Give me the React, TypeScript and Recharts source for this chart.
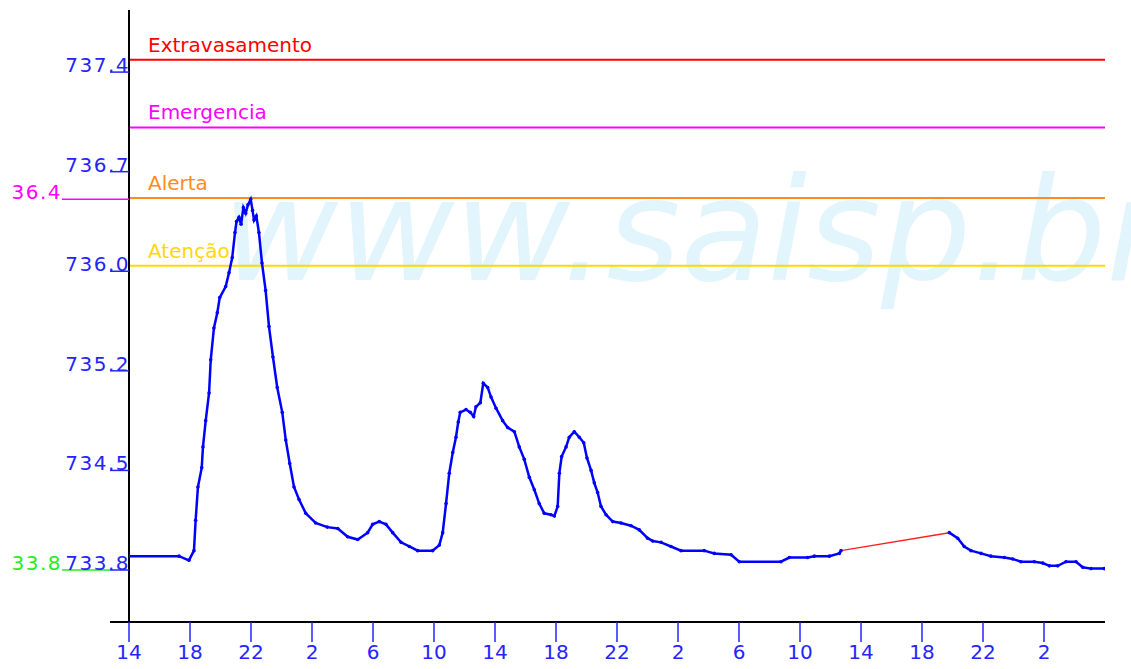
import { LineChart, Line, XAxis, YAxis, ReferenceLine } from "recharts";

// hours since 14h of the first day
const hours = [
  0, 3.28, 3.93, 4.26, 4.37, 4.52, 4.77, 4.85, 5.03, 5.25, 5.36, 5.57, 5.79, 5.95,
  6.34, 6.56, 6.77, 6.95, 7.05, 7.21, 7.35, 7.5, 7.65, 7.8, 7.98, 8.1, 8.2, 8.35,
  8.52, 8.72, 8.96, 9.18, 9.44, 9.72, 10.05, 10.28, 10.54, 10.82, 11.15, 11.59,
  12.24, 13.0, 13.69, 14.34, 15.0, 15.65, 15.98, 16.41, 16.85, 17.29, 17.84, 18.38,
  18.93, 19.91, 20.35, 20.57, 20.79, 21.0, 21.23, 21.44, 21.59, 21.72, 22.1, 22.38,
  22.6, 22.75, 23.04, 23.23, 23.52, 23.74, 24.07, 24.5, 24.83, 25.27, 25.59, 25.92,
  26.25, 26.58, 26.9, 27.23, 27.67, 27.89, 28.11, 28.22, 28.37, 28.66, 28.87, 29.2,
  29.53, 29.82, 30.03, 30.3, 30.51, 30.73, 30.95, 31.28, 31.72, 32.26, 32.92, 33.46,
  34.01, 34.34, 34.89, 35.54, 36.2, 37.72, 38.38, 39.48, 40.02, 42.75, 43.3, 44.5,
  44.94, 45.92, 46.58, 46.69, 50.2, 53.79, 54.34, 54.77, 55.21, 55.87, 56.52, 57.4,
  57.95, 58.49, 59.36, 59.92, 60.35, 60.9, 61.44, 62.1, 62.54, 63.08, 63.95,
];

// nivel (m); null = sem dado
const levels = [
  733.9, 733.9, 733.87, 733.94, 734.16, 734.4, 734.54, 734.69, 734.88, 735.08, 735.32,
  735.55, 735.66, 735.77, 735.85, 735.95, 736.06, 736.24, 736.32, 736.35, 736.3,
  736.42, 736.38, 736.44, 736.48, 736.4, 736.33, 736.36, 736.24, 736.02, 735.82,
  735.56, 735.34, 735.12, 734.94, 734.74, 734.57, 734.4, 734.31, 734.21, 734.14,
  734.11, 734.1, 734.04, 734.02, 734.07, 734.13, 734.15, 734.13, 734.07, 734.0,
  733.97, 733.94, 733.94, 733.98, 734.07, 734.28, 734.5, 734.65, 734.76, 734.87,
  734.94, 734.96, 734.94, 734.91, 734.98, 735.01, 735.15, 735.12, 735.05, 734.97,
  734.88, 734.83, 734.8, 734.69, 734.6, 734.47, 734.38, 734.28, 734.21, 734.2,
  734.19, 734.26, 734.5, 734.62, 734.69, 734.76, 734.8, 734.76, 734.72, 734.61,
  734.52, 734.43, 734.36, 734.26, 734.2, 734.15, 734.14, 734.12, 734.09, 734.03,
  734.01, 734.0, 733.97, 733.94, 733.94, 733.92, 733.91, 733.86, 733.86, 733.89,
  733.89, 733.9, 733.9, 733.92, 733.94, null, 734.07, 734.03, 733.97, 733.94,
  733.92, 733.9, 733.89, 733.88, 733.86, 733.86, 733.85, 733.83, 733.83, 733.86,
  733.86, 733.82, 733.81, 733.81,
];

// missing-data stretch drawn in red
const gapEdges = [46.69, 53.79];

const xTicks = [0, 4, 8, 12, 16, 20, 24, 28, 32, 36, 40, 44, 48, 52, 56, 60];
const xTickLabels = ["14", "18", "22", "2", "6", "10", "14", "18", "22", "2", "6", "10", "14", "18", "22", "2"];

const yTicks = [733.8, 734.52, 735.24, 735.96, 736.68, 737.4];
const yTickLabels = ["733.8", "734.5", "735.2", "736.0", "736.7", "737.4"];

const thresholdNames = ["Extravasamento", "Emergencia", "Alerta", "Atenção"];
const thresholdValues = [737.49, 737.0, 736.49, 736.0];
const thresholdColors = ["#ff0000", "#ff00ff", "#ff8c1a", "#ffd800"];

const data = hours.map((h, i) => ({
  h,
  level: levels[i],
  gap: gapEdges.includes(h) ? levels[i] : null,
}));

const valid = levels.filter((v) => v !== null) as number[];
const peak = Math.max(...valid);
const minLevel = yTicks[0];

const FONT = "DejaVu Sans";
const BLUE_TXT = "#2424ff";

function YTick(props: any) {
  const { x, y, payload } = props;
  const v = payload.value;
  if (v === peak) {
    return (
      <g>
        <text x={62} y={y} textAnchor="end" fill="#ff00ff" fontSize={20} fontFamily={FONT} letterSpacing={1.5}>
          {(Math.floor(peak * 10) / 10).toFixed(1).slice(1)}
        </text>
        <line x1={62} x2={x} y1={y} y2={y} stroke="#ff00ff" strokeWidth={1.5} />
      </g>
    );
  }
  const idx = yTicks.indexOf(v);
  return (
    <g>
      {v === minLevel && (
        <g>
          <text x={62} y={y} textAnchor="end" fill="#22ee22" fontSize={20} fontFamily={FONT} letterSpacing={1.5}>
            {yTickLabels[idx].slice(1)}
          </text>
          <line x1={62} x2={x - 19} y1={y} y2={y} stroke="#22ee22" strokeWidth={1.5} />
        </g>
      )}
      <text x={x + 1} y={y} textAnchor="end" fill={BLUE_TXT} fontSize={20} fontFamily={FONT} letterSpacing={1.5}>
        {yTickLabels[idx]}
      </text>
      <line x1={x - 19} x2={x} y1={y} y2={y} stroke={BLUE_TXT} strokeWidth={1.5} />
    </g>
  );
}

function XTick(props: any) {
  const { x, y, payload, index } = props;
  const i = xTicks.indexOf(payload.value);
  return (
    <g>
      {index === 0 && <line x1={x - 19} x2={x} y1={y} y2={y} stroke="#000" strokeWidth={2} />}
      <line x1={x} x2={x} y1={y} y2={y + 20} stroke={BLUE_TXT} strokeWidth={1.5} />
      <text x={x} y={y + 37} textAnchor="middle" fill={BLUE_TXT} fontSize={20} fontFamily={FONT}>
        {xTickLabels[i]}
      </text>
    </g>
  );
}

function ThresholdLabel(props: any) {
  const { viewBox, text, color } = props;
  return (
    <text x={viewBox.x + 19} y={viewBox.y - 8} fill={color} fontSize={20} fontFamily={FONT}>
      {text}
    </text>
  );
}

export default function App() {
  return (
    <div style={{ position: "absolute", left: 0, top: 0, width: 1131, height: 669, background: "#fff" }}>
      {/* watermark */}
      <svg width={1131} height={669} style={{ position: "absolute", left: 0, top: 0 }}>
        <text x={222} y={280} fill="#e2f5fd" fontSize={142} fontStyle="italic" fontFamily={FONT}>
          www.saisp.br
        </text>
      </svg>
      <div style={{ position: "absolute", left: 0, top: 0 }}>
        <LineChart width={1131} height={669} data={data} margin={{ top: 10, right: 26, left: 0, bottom: 0 }}>
          <XAxis
            dataKey="h"
            type="number"
            domain={[0, 64]}
            ticks={xTicks}
            interval={0}
            tickSize={0}
            tickMargin={0}
            tickLine={false}
            axisLine={{ stroke: "#000", strokeWidth: 2 }}
            tick={<XTick />}
            height={47}
            allowDataOverflow
          />
          <YAxis
            type="number"
            domain={[733.424, 737.849]}
            ticks={[...yTicks, peak].sort((a, b) => a - b)}
            interval={0}
            tickSize={0}
            tickMargin={0}
            tickLine={false}
            axisLine={{ stroke: "#000", strokeWidth: 2 }}
            tick={<YTick />}
            width={129}
            allowDataOverflow
          />
          {thresholdNames.map((name, i) => (
            <ReferenceLine
              key={name}
              y={thresholdValues[i]}
              stroke={thresholdColors[i]}
              strokeWidth={2}
              label={<ThresholdLabel text={name} color={thresholdColors[i]} />}
            />
          ))}
          <Line
            dataKey="level"
            stroke="#0000ff"
            strokeWidth={2.5}
            dot={{ r: 1.8, fill: "#0000ff", stroke: "none" }}
            type="linear"
            isAnimationActive={false}
          />
          <Line
            dataKey="gap"
            stroke="#ff2020"
            strokeWidth={1.5}
            dot={false}
            connectNulls
            type="linear"
            isAnimationActive={false}
          />
        </LineChart>
      </div>
    </div>
  );
}
